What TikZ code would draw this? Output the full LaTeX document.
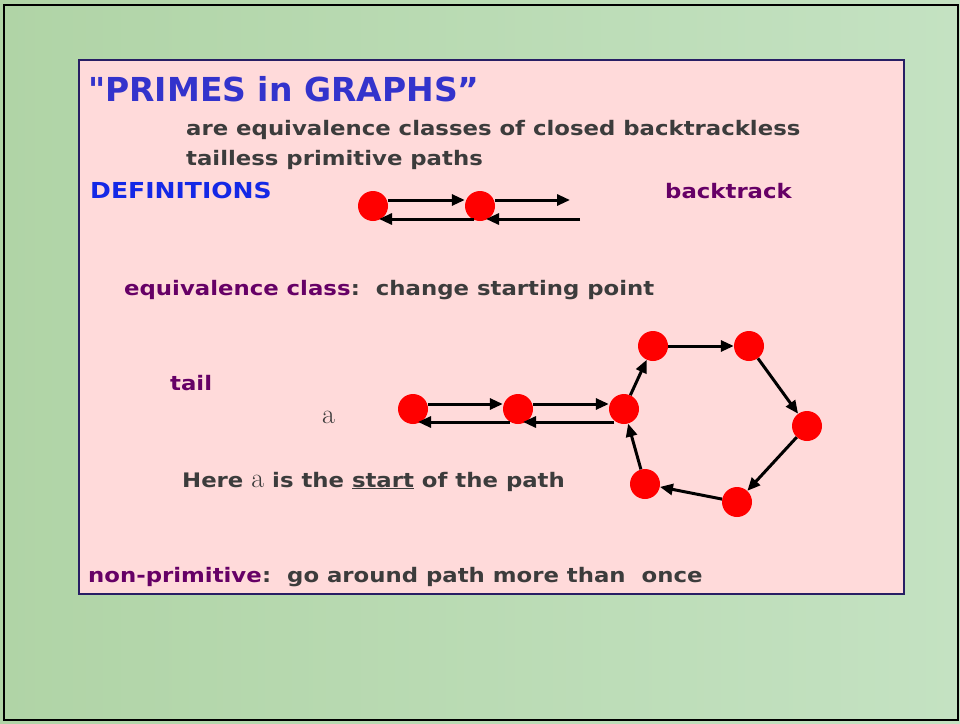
\documentclass[tikz,border=0pt]{standalone}
\usepackage{fontspec}
\setmainfont{DejaVu Sans}
\newfontfamily\wide[FakeStretch=1.14]{DejaVu Sans}
\newfontfamily\titlefont[Ligatures=ResetAll]{DejaVu Sans}
\newfontfamily\lmr{Latin Modern Roman}
\usetikzlibrary{arrows.meta}
\definecolor{bggreen}{RGB}{176,212,166}
\definecolor{bggreen2}{RGB}{196,226,194}
\definecolor{boxpink}{RGB}{255,218,218}
\definecolor{boxborder}{RGB}{40,30,100}
\definecolor{titleblue}{RGB}{51,51,204}
\definecolor{defblue}{RGB}{20,40,230}
\definecolor{termpurple}{RGB}{102,0,102}
\definecolor{textgray}{RGB}{60,60,60}
\definecolor{dotred}{RGB}{255,0,0}
\tikzset{
  vtx/.style={circle, fill=dotred, minimum size=30pt, inner sep=0pt},
  arr/.style={-{Triangle[length=13pt,width=11pt]}, line width=3pt, black},
  txt/.style={anchor=base west, inner sep=0pt, font=\wide\bfseries\fontsize{20}{24}\selectfont, text=textgray},
  term/.style={txt, text=termpurple},
}
\begin{document}
\begin{tikzpicture}[x=1pt,y=-1pt]
\useasboundingbox (0,0) rectangle (960,723);
\shade[left color=bggreen, right color=bggreen2] (0,0) rectangle (960,723);
\draw[line width=2pt] (4,5) rectangle (958,720);
\draw[fill=boxpink, draw=boxborder, line width=1.2pt] (79,60) rectangle (904,594);
% texts
\node[txt, text=titleblue, font=\titlefont\bfseries\fontsize{33}{38}\selectfont] (title) at (88,101) {"PRIMES in GRAPHS”};
\node[txt] (l1) at (186,135) {are equivalence classes of closed backtrackless};
\node[txt] (l2) at (186,165) {tailless primitive paths};
\node[txt, text=defblue, font=\wide\bfseries\fontsize{22}{26}\selectfont] (defs) at (90,198) {DEFINITIONS};
\node[term] (bt) at (665,198) {backtrack};
\node[term] (eq) at (124,295) {equivalence class};
\node[txt, anchor=base west] (eq2) at (eq.base east) {:\ \ change starting point};
\node[term] (tail) at (170,390) {tail};
\node[anchor=base west, inner sep=0pt, font=\lmr\fontsize{28}{32}\selectfont, text=textgray] (a) at (322,423) {a};
\node[txt] (here) at (182,487) {Here {\lmr\mdseries\fontsize{28}{32}\selectfont a} is the \underline{start} of the path};
\node[term] (np) at (88,582) {non-primitive};
\node[txt, anchor=base west] (np2) at (np.base east) {:\ \ go around path more than\ \ once};
% backtrack picture
\node[vtx] (b1) at (373,206) {};
\node[vtx] (b2) at (480,206) {};
\coordinate (b3t) at (570,200);
\coordinate (b3b) at (580,219);
\coordinate (b2bl) at (474,219);
\coordinate (b2br) at (486,219);
\coordinate (b1br) at (379,219);
\draw[arr] (b1.east |- b3t) -- (b2.west |- b3t);
\draw[arr] (b2.east |- b3t) -- (b3t);
\draw[arr] (b3b) -- (b2br);
\draw[arr] (b2bl) -- (b1br);
% tail + cycle
\node[vtx] (A) at (413,409) {};
\node[vtx] (B) at (518,409) {};
\node[vtx] (C) at (624,409) {};
\node[vtx] (D) at (653,346) {};
\node[vtx] (E) at (749,346) {};
\node[vtx] (F) at (807,426) {};
\node[vtx] (G) at (737,502) {};
\node[vtx] (H) at (645,484) {};
\draw[arr] ([yshift=5pt]A.east) -- ([yshift=5pt]B.west);
\draw[arr] ([yshift=5pt]B.east) -- ([yshift=5pt]C.west);
\draw[arr] ([xshift=-10pt,yshift=-13pt]C.center) -- ([xshift=5pt,yshift=-13pt]B.center);
\draw[arr] ([xshift=-8pt,yshift=-13pt]B.center) -- ([xshift=5pt,yshift=-13pt]A.center);
\draw[arr] (C) -- (D);
\draw[arr] (D) -- (E);
\draw[arr] (E) -- (F);
\draw[arr] (F) -- (G);
\draw[arr] (G) -- (H);
\draw[arr] (H) -- (C);
\end{tikzpicture}
\end{document}
